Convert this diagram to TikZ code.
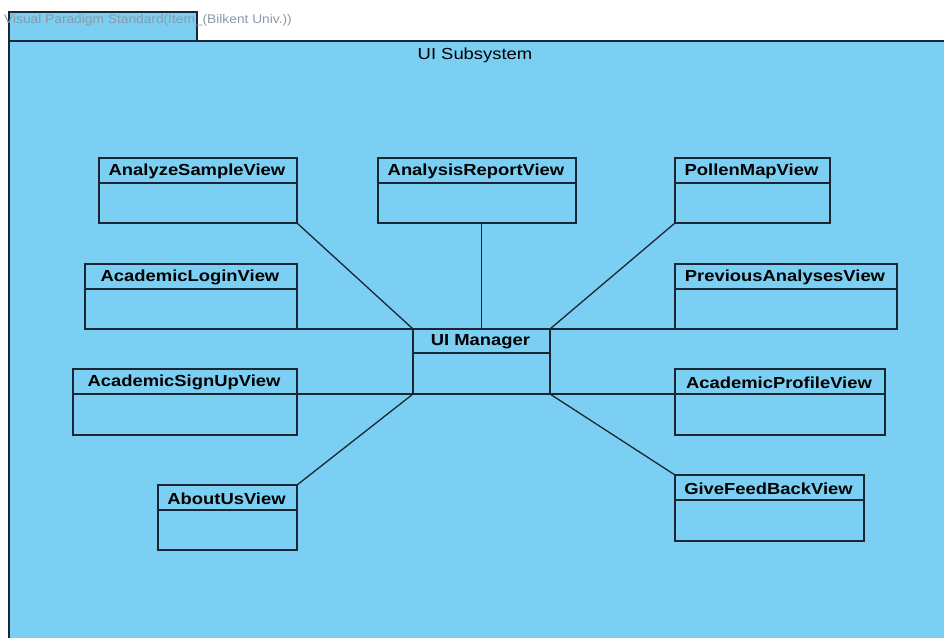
\documentclass[tikz,border=0pt]{standalone}
\usepackage{fontspec}
\setmainfont{Liberation Sans}[FakeStretch=1.15]
\newfontfamily\markfont{Liberation Sans}[FakeStretch=1.1]
\definecolor{pkgfill}{HTML}{7ACFF3}
\definecolor{inkline}{HTML}{1B2633}
\definecolor{markgrey}{HTML}{8C9AA6}
\tikzset{
  clsbox/.style={draw=inkline, line width=1.3pt, fill=pkgfill, inner sep=0pt, outer sep=0pt, rectangle},
  clstitle/.style={font=\fontsize{16}{16}\selectfont\bfseries, text=black, inner sep=0pt},
  assoc/.style={draw=inkline, line width=1.3pt},
  pkgline/.style={draw=inkline, line width=1.3pt, fill=pkgfill}
}
% \umlclass{name}{left}{top}{right}{divider}{bottom}{label}
\newcommand\umlclass[7]{%
  \node[clsbox, minimum width={(#4-#2)*1pt}, minimum height={(#6-#3)*1pt}]
    (#1) at ({(#2+#4)/2},{(#3+#6)/2}) {};
  \draw[inkline, line width=1.3pt] (#2,#5) -- (#4,#5);
  \node[clstitle] (#1-label) at ({(#2+#4)/2-1},{(#3+#5)/2+1}) {#7};
}
\begin{document}
\begin{tikzpicture}[x=1pt,y=-1pt]
  \useasboundingbox (0,0) rectangle (944,637);
  \fill[white] (0,0) rectangle (944,637);
  % package tab and body
  \begin{scope}
    \clip (0,0) rectangle (944,637);
    \path[pkgline] (9,12) rectangle (197,41);
    \path[pkgline] (9,41) rectangle (960,650);
  \end{scope}
  \node[font=\markfont\fontsize{12.5}{12.5}\selectfont, text=markgrey, anchor=west, inner sep=0pt]
    (mark) at (4,20) {Visual Paradigm Standard(Item\_(Bilkent Univ.))};
  \node[font=\fontsize{16}{16}\selectfont, inner sep=0pt] (pkgname) at (475,55) {UI Subsystem};

  % classes
  \umlclass{analyze}{99}{158}{297}{183}{223}{AnalyzeSampleView}
  \umlclass{report}{378}{158}{576}{183}{223}{AnalysisReportView}
  \umlclass{pollen}{675}{158}{830}{183}{223}{PollenMapView}
  \umlclass{login}{85}{264}{297}{289}{329}{AcademicLoginView}
  \umlclass{previous}{675}{264}{897}{289}{329}{PreviousAnalysesView}
  \umlclass{manager}{413}{329}{550}{353}{394}{UI Manager}
  \umlclass{signup}{73}{369}{297}{394}{435}{AcademicSignUpView}
  \umlclass{profile}{675}{369}{885}{394}{435}{AcademicProfileView}
  \umlclass{about}{158}{485}{297}{510}{550}{AboutUsView}
  \umlclass{feedback}{675}{475}{864}{500}{541}{GiveFeedBackView}

  % associations
  \draw[assoc] (analyze.south east) -- (manager.north west);
  \draw[assoc] (login.south east) -- (manager.north west);
  \draw[assoc] (manager.north) -- (manager.north |- report.south);
  \draw[assoc] (pollen.south west) -- (manager.north east);
  \draw[assoc] (previous.south west) -- (manager.north east);
  \draw[assoc] (signup.east |- manager.south west) -- (manager.south west);
  \draw[assoc] (about.north east) -- (manager.south west);
  \draw[assoc] (manager.south east) -- (profile.west |- manager.south east);
  \draw[assoc] (feedback.north west) -- (manager.south east);
\end{tikzpicture}
\end{document}
